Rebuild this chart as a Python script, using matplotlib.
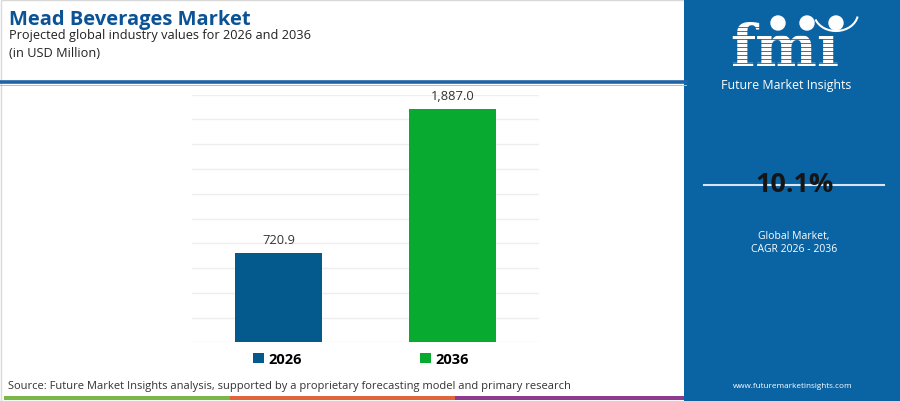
import matplotlib
matplotlib.use('Agg')
import matplotlib.pyplot as plt
from matplotlib.patches import Rectangle, Ellipse, Arc
from matplotlib.lines import Line2D

# ---- data ----
years = ['2026', '2036']
values = [720.9, 1887.0]
value_labels = ['720.9', '1,887.0']
bar_colors = ['#045a8d', '#08ab2f']
cagr_text = '10.1%'
title = 'Mead Beverages Market'
subtitle = 'Projected global industry values for 2026 and 2036'
unit = '(in USD Million)'
source = 'Source: Future Market Insights analysis, supported by a proprietary forecasting model and primary research'

FONT = ['Open Sans', 'DejaVu Sans']
plt.rcParams['font.family'] = FONT

W, H = 900, 402
fig = plt.figure(figsize=(9, 4.02), dpi=100)
fig.patch.set_facecolor('white')

def X(px):
    return px / W

def Y(py):
    return 1 - py / H

# frame border
fig.add_artist(Rectangle((X(0.5), Y(401.5)), X(899), 1 - 1 / H, transform=fig.transFigure,
                         fill=False, edgecolor='#d9d9d9', linewidth=1))

# header
fig.text(X(9), Y(24.5), title, fontsize=14.5, fontweight='bold', color='#0b5394', va='baseline', ha='left')
fig.text(X(9), Y(39.2), subtitle, fontsize=9.2, color='#222222', va='baseline', ha='left')
fig.text(X(9), Y(57), unit, fontsize=9.2, color='#222222', va='baseline', ha='left')
fig.add_artist(Line2D([X(0), X(686)], [Y(83.3), Y(83.3)], transform=fig.transFigure,
                      color='#1f64a8', linewidth=2.6))
fig.add_artist(Line2D([X(0), X(686)], [Y(85.6), Y(85.6)], transform=fig.transFigure,
                      color='#9cc3e6', linewidth=0.7))

# bottom stripes
stripe_cols = ['#7ab648', '#e0643c', '#8e3a8e']
edges = [4, 230, 455, 684]
for i, c in enumerate(stripe_cols):
    fig.add_artist(Rectangle((X(edges[i]), Y(401)), X(edges[i + 1] - edges[i]), 4 / H,
                             transform=fig.transFigure, color=c, linewidth=0))

fig.text(X(8), Y(387), source, fontsize=8.05, color='#333333', va='center', ha='left')

# ---- chart ----
ax = fig.add_axes([X(192), Y(343.3), X(347.3), 247.6 / H])
x = list(range(len(years)))
bars = ax.bar(x, values, width=0.5, color=bar_colors, zorder=3, label=years)
ax.set_xlim(-0.5, 1.5)
ax.set_ylim(0, 2000)
ax.set_yticks(range(0, 2001, 200))
ax.grid(axis='y', color='#eeeeee', linewidth=1, zorder=0)
ax.set_xticks([])
ax.tick_params(axis='y', length=0, labelleft=False)
for s in ax.spines.values():
    s.set_visible(False)
ax.set_facecolor('none')
for xi, v, lab in zip(x, values, value_labels):
    ax.annotate(lab, (xi, v), xytext=(0, 9.4), textcoords='offset points',
                ha='center', va='center', fontsize=9.3, color='#333333')

leg = fig.legend(handles=list(bars), labels=years, loc='center', bbox_to_anchor=(X(361), Y(360)),
                 ncol=2, frameon=False, handlelength=0.75, handleheight=0.75, handletextpad=0.3,
                 columnspacing=8.05, prop={'weight': 'bold', 'size': 10.5, 'family': FONT})

# ---- right panel ----
panel_col = '#0a63a3'
fig.add_artist(Rectangle((X(684), 0), X(W - 684), 1, transform=fig.transFigure,
                         color=panel_col, linewidth=0, zorder=1))

# logo
fig.text(X(785), Y(65.5), 'fm\u0131', fontsize=42, fontweight='bold', family=['DejaVu Serif'],
         color='white', ha='center', va='baseline', zorder=2)
for yy in range(28, 68, 4):
    fig.add_artist(Line2D([X(716), X(856)], [Y(yy), Y(yy)], transform=fig.transFigure,
                          color=panel_col, linewidth=0.6, zorder=3))
for cx in (778, 807, 836):
    fig.add_artist(Ellipse((X(cx), Y(24)), 14 / W, 14 / H, transform=fig.transFigure,
                           color='white', zorder=4))
fig.add_artist(Arc((X(836), Y(14)), 44 / W, 36 / H, theta1=215, theta2=340,
                   transform=fig.transFigure, color='white', linewidth=1.5, zorder=4))
fig.text(X(786), Y(85.5), 'Future Market Insights', fontsize=8.9, color='white',
         ha='center', va='center', zorder=4)

fig.add_artist(Line2D([X(704), X(884)], [Y(185.7), Y(185.7)], transform=fig.transFigure,
                      color='#d6e6f4', linewidth=1.5, zorder=2))
fig.text(X(795), Y(185), cagr_text, fontsize=19.5, fontweight='bold', color='#151515',
         ha='center', va='center', zorder=4)
fig.text(X(794), Y(237), 'Global Market,', fontsize=7.5, color='white', ha='center', va='center', zorder=4)
fig.text(X(794), Y(249.5), 'CAGR 2026 - 2036', fontsize=7.5, color='white', ha='center', va='center', zorder=4)
fig.text(X(793), Y(387), 'www.futuremarketinsights.com', fontsize=5.9, color='white',
         ha='center', va='center', zorder=4)

fig.savefig('out.png', dpi=100, facecolor='white')
